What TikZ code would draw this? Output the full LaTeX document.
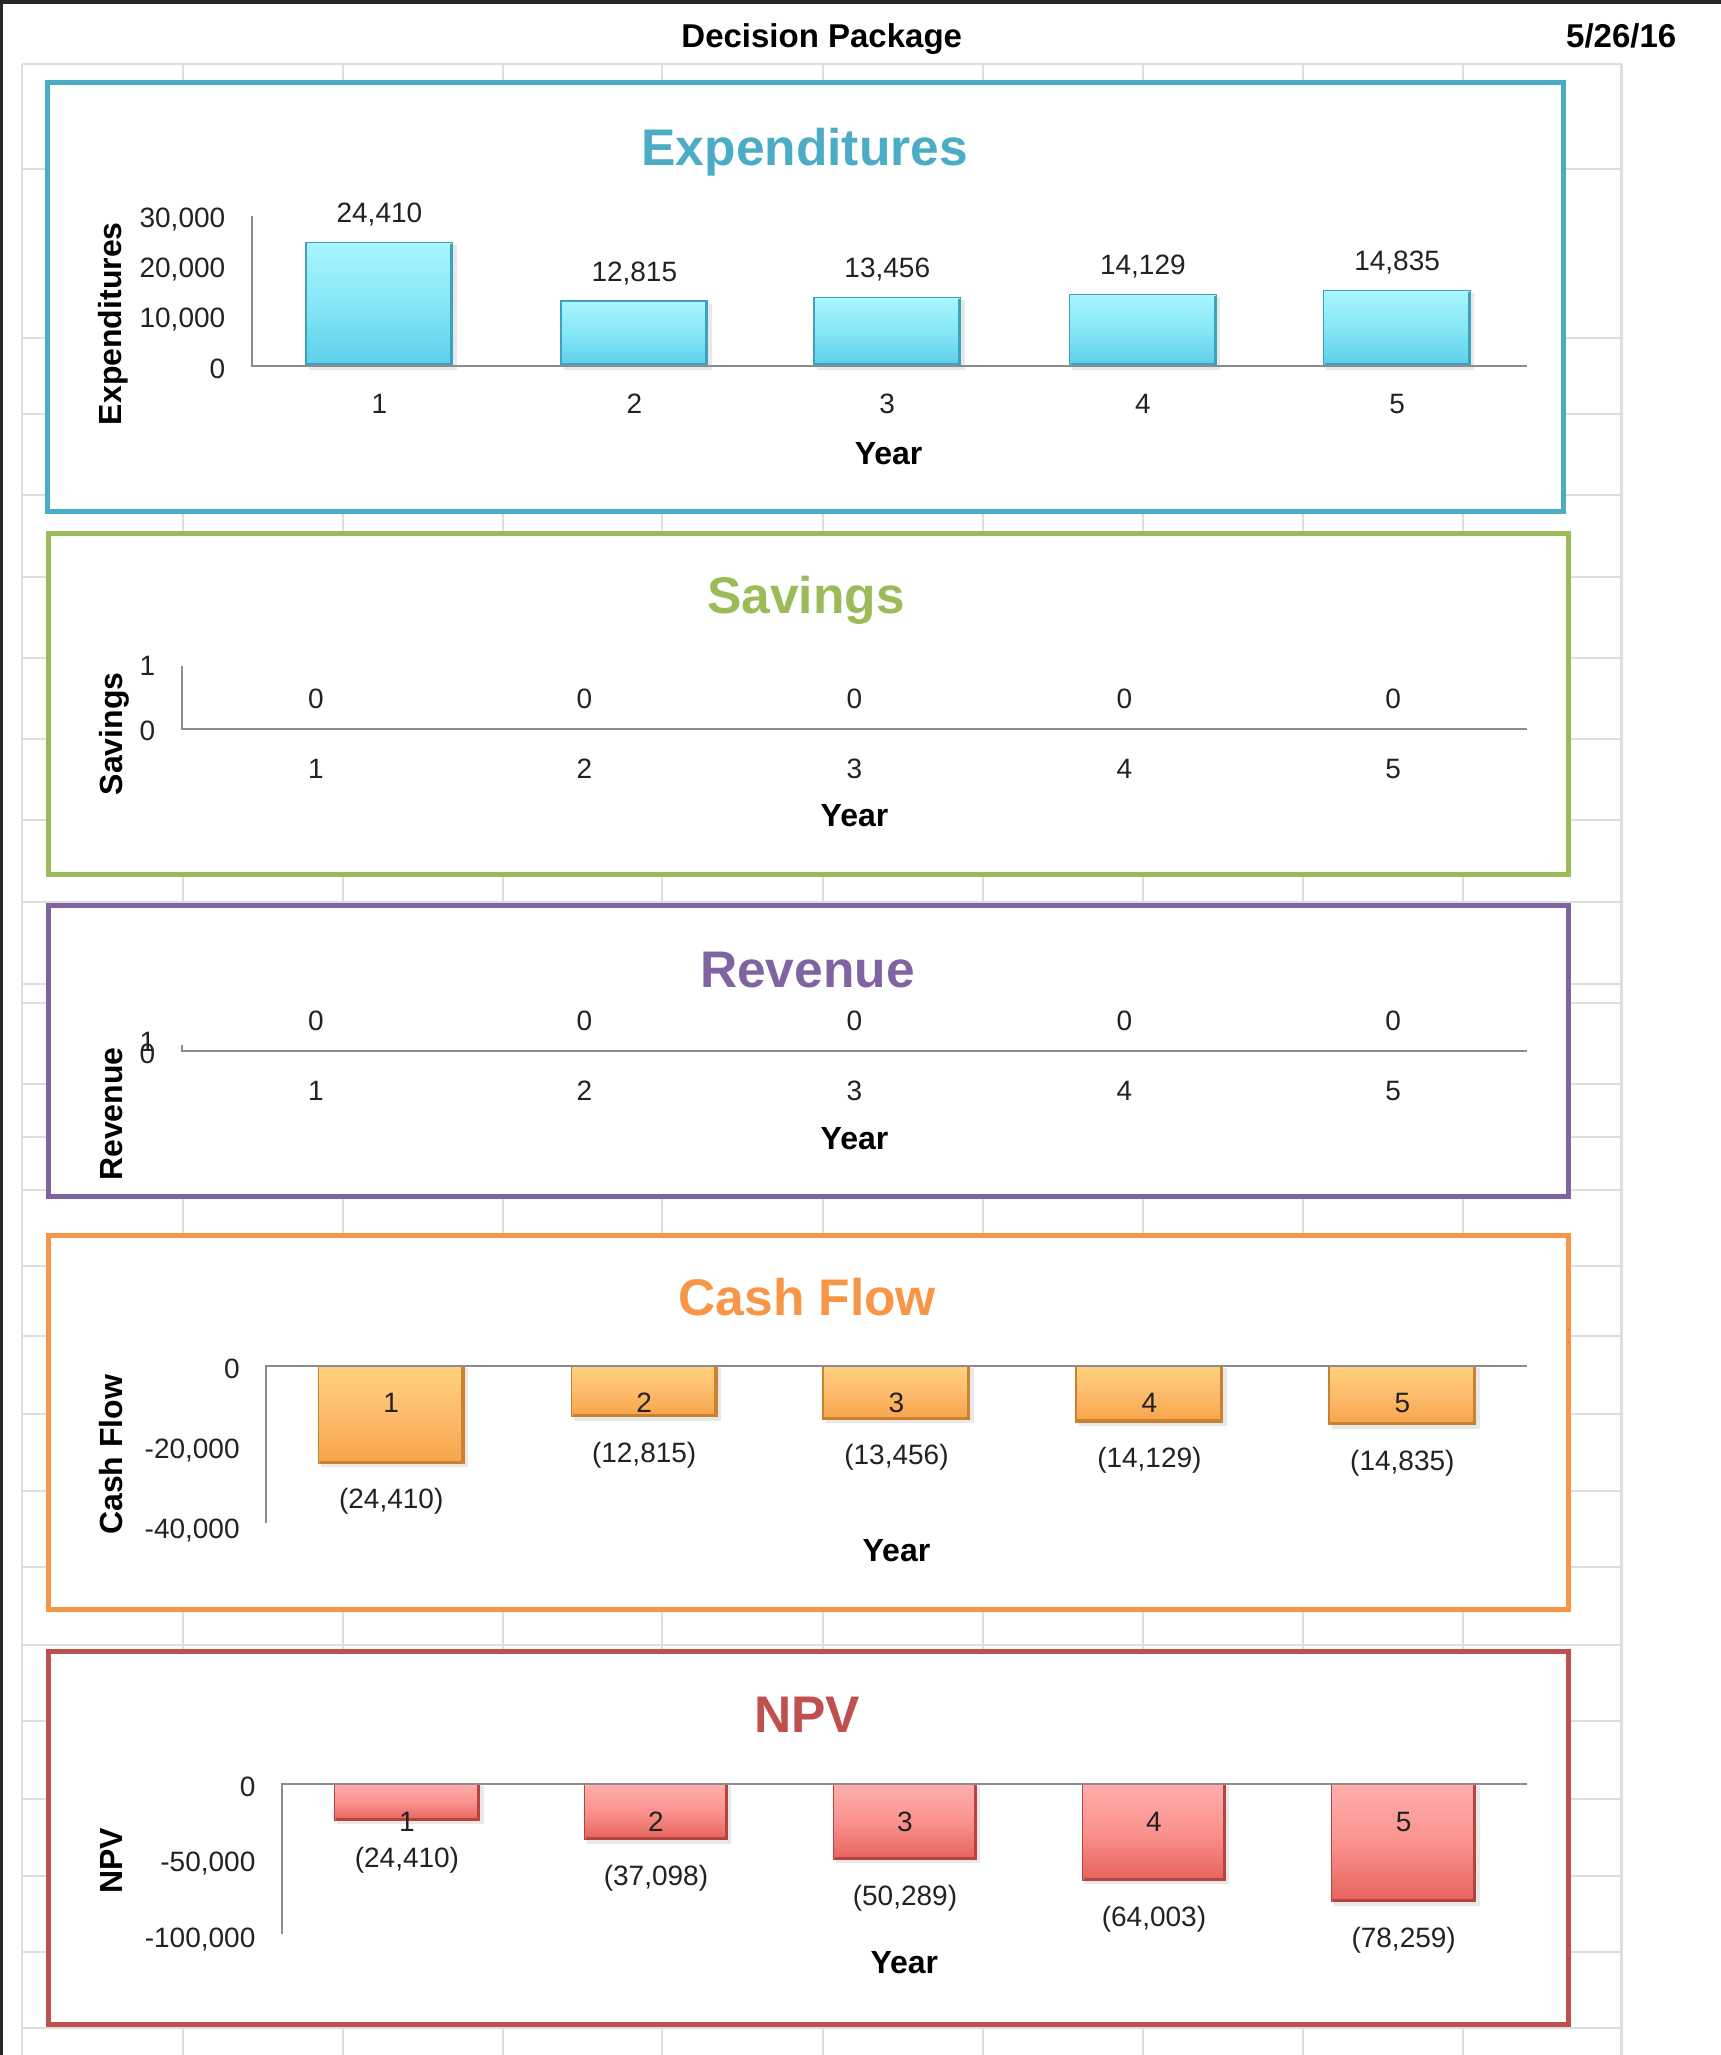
\documentclass[tikz,border=0pt]{standalone}
\usepackage{fontspec}
\setmainfont{Liberation Sans}
\definecolor{expc}{HTML}{4BACC6}
\definecolor{savc}{HTML}{9BBB59}
\definecolor{revc}{HTML}{8064A2}
\definecolor{cfc}{HTML}{F79646}
\definecolor{npvc}{HTML}{C0504D}
\definecolor{gridc}{HTML}{DEDEDE}
\definecolor{axc}{HTML}{8C8C8C}
\definecolor{txc}{HTML}{222222}
\definecolor{darkc}{HTML}{262626}
\definecolor{cyT}{HTML}{A9F6FE}\definecolor{cyM}{HTML}{86E6F6}\definecolor{cyB}{HTML}{5BCFEA}\definecolor{cyD}{HTML}{3EA2BA}
\definecolor{orT}{HTML}{FFD27E}\definecolor{orM}{HTML}{FDBB6C}\definecolor{orB}{HTML}{F7A448}\definecolor{orD}{HTML}{C98132}
\definecolor{rdT}{HTML}{FFAEAB}\definecolor{rdM}{HTML}{FA928E}\definecolor{rdB}{HTML}{E6625D}\definecolor{rdD}{HTML}{B5443E}
\tikzset{
  panel/.style={line width=5pt, fill=white},
  ptitle/.style={font=\fontsize{51.5}{55}\selectfont\bfseries, inner sep=0pt, text height=37pt, text depth=0pt},
  atitle/.style={font=\fontsize{32}{34}\selectfont\bfseries, inner sep=0pt, text height=23pt, text depth=0pt, text=black},
  htitle/.style={font=\fontsize{33}{35}\selectfont\bfseries, inner sep=0pt, text height=23.6pt, text depth=0pt, text=black},
  lab/.style={font=\fontsize{28}{30}\selectfont, inner sep=0pt, text height=20pt, text depth=0pt, text=txc},
  axisline/.style={draw=axc, line width=1.8pt},
  gridline/.style={draw=gridc, line width=1.5pt},
  shadowbox/.style={fill=black!9},
  cybar/.style={top color=cyT, bottom color=cyB, middle color=cyM},
  orbar/.style={top color=orT, bottom color=orB, middle color=orM},
  rdbar/.style={top color=rdT, bottom color=rdB, middle color=rdM},
  cyedge/.style={draw=cyD, line width=1.3pt},
  oredge/.style={draw=orD, line width=1.3pt},
  rdedge/.style={draw=rdD, line width=1.3pt},
}
\newcommand\mybar[5]{%
  \fill[shadowbox] (#1+2,#2+2) rectangle (#3+3,#4+3);
  \shade[#5bar] (#1,#2) rectangle (#3,#4);
  \draw[#5edge] (#1,#2) rectangle (#3,#4);
  \draw[#5edge, line width=2.5pt] (#3-1,#2+1) -- (#3-1,#4-1) -- (#1+1,#4-1);
}
\begin{document}
\begin{tikzpicture}[x=1.3107pt, y=-1.3107pt]
\useasboundingbox (0,0) rectangle (1313,1568);
\fill[white] (0,0) rectangle (1313,1568);
% grid
\foreach \gx in {139.6,261.7,383.8,505.1,627.9,750,872,994.1,1116.2}
  \draw[gridline] (\gx,48.8) -- (\gx,1568);
\foreach \gy in {48.8,128.9,257.9,315.9,377.7,440.2,502,563.8,625.6,688.2,750.7,765.2,827,867.5,907.9,965.9,1019.3,1078.8,1137.6,1195.5,1255,1313,1372.6,1431.3,1489.3,1547.3}
  \draw[gridline] (16.8,\gy) -- (1237.5,\gy);
\draw[gridline] (16.8,48.8) -- (16.8,1568);
\draw[draw=gridc, line width=3pt] (1237.5,48.8) -- (1237.5,1568);
% dark screen edges
\fill[darkc] (0,0) rectangle (1313,3.2);
\fill[darkc] (0,0) rectangle (2.4,1568);
% header
\node[htitle] (hdr) at (627,27) {Decision Package};
\node[htitle] (date) at (1237,27) {5/26/16};

% ===== Expenditures =====
\draw[panel, draw=expc] (36,63) rectangle (1193,390);
\node[ptitle, text=expc] (te) at (614,112) {Expenditures};
\node[atitle, rotate=90] (ye) at (84,247) {Expenditures};
\node[lab, anchor=east] (e30) at (172,166) {30,000};
\node[lab, anchor=east] (e20) at (172,204) {20,000};
\node[lab, anchor=east] (e10) at (172,242.5) {10,000};
\node[lab, anchor=east] (e00) at (172,281) {0};
\mybar{233.5}{185}{345.5}{279}{cy}
\mybar{428}{229.7}{540}{279}{cy}
\mybar{621}{227.2}{733}{279}{cy}
\mybar{816}{224.6}{928}{279}{cy}
\mybar{1010}{221.9}{1122}{279}{cy}
\coordinate (eo) at (192,279);
\coordinate (ey) at (192,165);
\coordinate (ex) at (1165,279);
\draw[axisline] (ey) -- (eo) -- (ex);
\node[lab] (ev1) at (289.5,162) {24,410};
\node[lab] (ev2) at (484,207) {12,815};
\node[lab] (ev3) at (677,204.2) {13,456};
\node[lab] (ev4) at (872,201.6) {14,129};
\node[lab] (ev5) at (1066,198.9) {14,835};
\node[lab] (ec1) at (289.5,308) {1};
\node[lab] (ec2) at (484,308) {2};
\node[lab] (ec3) at (677,308) {3};
\node[lab] (ec4) at (872,308) {4};
\node[lab] (ec5) at (1066,308) {5};
\node[atitle] (eyr) at (678,346) {Year};

% ===== Savings =====
\draw[panel, draw=savc] (37,407) rectangle (1197,667);
\node[ptitle, text=savc] (ts) at (615,454) {Savings};
\node[atitle, rotate=90] (ys) at (85,560) {Savings};
\node[lab, anchor=east] (s1) at (118.5,508) {1};
\node[lab, anchor=east] (s0) at (118.5,557) {0};
\coordinate (so) at (139,556);
\coordinate (sy) at (139,508);
\coordinate (sx) at (1165,556);
\draw[axisline] (sy) -- (so) -- (sx);
\node[lab] (sv1) at (241,533) {0};
\node[lab] (sv2) at (446,533) {0};
\node[lab] (sv3) at (652,533) {0};
\node[lab] (sv4) at (858,533) {0};
\node[lab] (sv5) at (1063,533) {0};
\node[lab] (sc1) at (241,586) {1};
\node[lab] (sc2) at (446,586) {2};
\node[lab] (sc3) at (652,586) {3};
\node[lab] (sc4) at (858,586) {4};
\node[lab] (sc5) at (1063,586) {5};
\node[atitle] (syr) at (652,622) {Year};

% ===== Revenue =====
\draw[panel, draw=revc] (37,691) rectangle (1197,913);
\node[ptitle, text=revc] (tr) at (616,739) {Revenue};
\node[atitle, rotate=90] (yr) at (85,850) {Revenue};
\node[lab, anchor=east] (r1) at (118.5,795) {1};
\node[lab, anchor=east] (r0) at (118.5,804) {0};
\coordinate (ro) at (139,802);
\coordinate (ry) at (139,797);
\coordinate (rx) at (1165,802);
\draw[axisline] (ry) -- (ro) -- (rx);
\node[lab] (rv1) at (241,779) {0};
\node[lab] (rv2) at (446,779) {0};
\node[lab] (rv3) at (652,779) {0};
\node[lab] (rv4) at (858,779) {0};
\node[lab] (rv5) at (1063,779) {0};
\node[lab] (rc1) at (241,832) {1};
\node[lab] (rc2) at (446,832) {2};
\node[lab] (rc3) at (652,832) {3};
\node[lab] (rc4) at (858,832) {4};
\node[lab] (rc5) at (1063,832) {5};
\node[atitle] (ryr) at (652,868) {Year};

% ===== Cash Flow =====
\draw[panel, draw=cfc] (37,943) rectangle (1197,1228);
\node[ptitle, text=cfc] (tc) at (616,990) {Cash Flow};
\node[atitle, rotate=90] (yc) at (85,1110) {Cash Flow};
\node[lab, anchor=east] (c0) at (183,1044) {0};
\node[lab, anchor=east] (c20) at (183,1105) {-20,000};
\node[lab, anchor=east] (c40) at (183,1166) {-40,000};
\mybar{243}{1042}{354}{1116.5}{or}
\mybar{436}{1042}{547}{1081}{or}
\mybar{628}{1042}{740}{1083}{or}
\mybar{821}{1042}{933}{1085}{or}
\mybar{1014}{1042}{1126}{1087}{or}
\coordinate (co) at (203,1042);
\coordinate (cy) at (203,1162);
\coordinate (cx) at (1165,1042);
\draw[axisline] (cy) -- (co) -- (cx);
\node[lab] (cb1) at (298.5,1070) {1};
\node[lab] (cb2) at (491.5,1070) {2};
\node[lab] (cb3) at (684,1070) {3};
\node[lab] (cb4) at (877,1070) {4};
\node[lab] (cb5) at (1070,1070) {5};
\node[lab] (cv1) at (298.5,1143.5) {(24,410)};
\node[lab] (cv2) at (491.5,1108) {(12,815)};
\node[lab] (cv3) at (684,1110) {(13,456)};
\node[lab] (cv4) at (877,1112) {(14,129)};
\node[lab] (cv5) at (1070,1114) {(14,835)};
\node[atitle] (cyr) at (684,1183) {Year};

% ===== NPV =====
\draw[panel, draw=npvc] (37,1260) rectangle (1197,1545);
\node[ptitle, text=npvc] (tn) at (616,1308) {NPV};
\node[atitle, rotate=90] (yn) at (85,1420) {NPV};
\node[lab, anchor=east] (n0) at (195,1363) {0};
\node[lab, anchor=east] (n50) at (195,1420) {-50,000};
\node[lab, anchor=east] (n100) at (195,1478) {-100,000};
\mybar{255}{1361}{366}{1389}{rd}
\mybar{446}{1361}{555}{1403.7}{rd}
\mybar{636}{1361}{745}{1418.8}{rd}
\mybar{826}{1361}{935}{1434.6}{rd}
\mybar{1016}{1361}{1126}{1451}{rd}
\coordinate (no) at (215,1361);
\coordinate (ny) at (215,1476);
\coordinate (nx) at (1165,1361);
\draw[axisline] (ny) -- (no) -- (nx);
\node[lab] (nb1) at (310.5,1390) {1};
\node[lab] (nb2) at (500.5,1390) {2};
\node[lab] (nb3) at (690.5,1390) {3};
\node[lab] (nb4) at (880.5,1390) {4};
\node[lab] (nb5) at (1071,1390) {5};
\node[lab] (nv1) at (310.5,1417) {(24,410)};
\node[lab] (nv2) at (500.5,1431) {(37,098)};
\node[lab] (nv3) at (690.5,1446.5) {(50,289)};
\node[lab] (nv4) at (880.5,1462.5) {(64,003)};
\node[lab] (nv5) at (1071,1478) {(78,259)};
\node[atitle] (nyr) at (690,1497) {Year};
\end{tikzpicture}
\end{document}
